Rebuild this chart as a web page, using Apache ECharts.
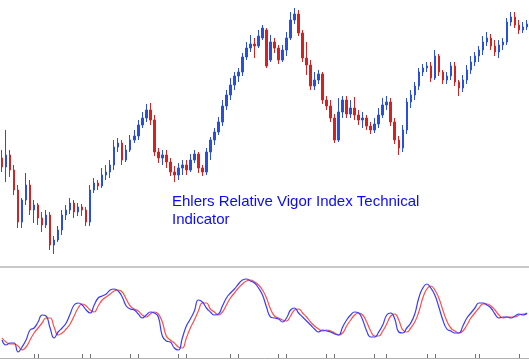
<!DOCTYPE html>
<html><head><meta charset="utf-8">
<script src="https://cdn.jsdelivr.net/npm/echarts@6/dist/echarts.min.js"></script>
<style>html,body{margin:0;padding:0;background:#fff}#c{width:529px;height:361px}</style>
</head><body><div id="c"></div>
<script>
// Price candles (arbitrary price units)
const opens  = [112,103,115,100,80,48,70,85,60,65,52,45,55,25,30,40,55,60,67,58,63,60,48,80,87,84,95,98,105,123,127,110,120,130,134,145,152,160,150,118,112,115,108,98,95,102,105,100,110,116,102,98,118,130,138,148,164,175,185,194,198,213,222,226,224,232,240,210,228,222,210,220,232,250,256,237,212,205,184,190,196,170,164,152,130,158,170,156,162,155,150,152,144,140,146,155,165,168,148,130,122,140,168,175,184,198,202,204,192,214,198,190,194,204,188,182,190,200,208,214,220,228,232,224,218,225,228,248,253,245,240,243];
const closes = [103,115,100,80,48,70,85,60,65,52,45,55,25,30,40,55,60,67,58,63,60,48,80,87,84,95,98,105,123,127,110,120,130,134,145,152,160,150,118,112,115,108,98,95,102,105,100,110,116,102,98,118,130,138,148,164,175,185,194,198,213,222,226,224,234,242,204,228,222,210,220,232,250,256,237,212,205,184,190,196,170,164,152,130,158,170,156,162,155,150,152,144,140,146,155,165,168,148,130,122,140,168,175,184,198,202,204,192,214,198,190,194,204,188,182,190,200,208,214,220,228,232,224,218,225,228,248,253,245,240,243,246];
const lows   = [98,88,93,75,42,42,65,55,47,45,38,42,20,16,28,35,50,56,52,54,54,44,44,77,80,82,90,92,100,118,105,108,118,127,130,142,148,145,114,107,105,102,94,88,90,95,95,98,107,97,94,95,110,125,135,144,160,170,180,188,194,210,218,212,222,230,202,208,217,206,208,214,230,246,234,208,195,180,180,186,166,160,148,127,128,152,152,152,150,145,142,140,136,137,142,152,160,144,126,115,118,136,162,170,180,194,198,188,190,194,186,186,190,184,174,178,186,196,204,208,215,224,220,214,212,220,225,244,242,236,237,240];
const highs  = [120,140,120,105,85,72,97,90,70,67,58,60,58,34,44,60,65,72,70,67,66,63,85,92,90,102,105,110,130,132,130,125,135,140,150,158,166,167,155,122,120,120,112,104,107,110,110,116,120,118,105,122,133,142,153,170,180,192,198,202,217,228,235,232,240,245,242,235,232,225,225,238,258,262,260,240,228,210,198,200,198,174,170,156,172,174,174,170,173,160,158,155,148,152,162,172,174,172,152,134,145,172,180,188,202,206,208,208,220,216,200,198,208,208,190,195,205,214,218,224,234,238,236,230,230,232,252,258,258,250,248,250];
// Oscillator (RVI and its signal line)
const rvi    = [20,15,17,17,8,13,20,30,32,38,45,44,32,22,28,32,37,46,55,57,55,50,47,55,62,64,66,70,71,69,63,54,51,50,46,42,45,48,47,43,24,19,18,12,10,22,34,41,49,60,58,52,48,45,46,54,62,67,71,76,80,81,79,77,72,65,53,43,42,41,38,42,50,52,47,43,39,35,31,28,30,29,28,26,25,33,40,45,48,47,40,29,23,23,28,35,45,47,41,28,27,32,37,46,62,72,76,72,65,53,40,31,29,27,27,34,42,47,52,57,57,55,52,46,42,43,43,42,44,46,45,47];
const signal = [22,18,16,16,14,10,13,20,27,32,37,42,42,33,25,27,31,36,44,52,56,54,50,48,54,60,63,66,69,70,68,61,54,51,49,45,43,46,48,46,38,24,20,17,13,12,22,32,40,49,57,57,51,48,45,48,55,62,67,72,76,79,80,78,75,70,62,51,44,42,40,39,44,50,51,47,43,38,34,31,29,30,29,27,25,27,34,40,45,47,45,38,29,24,24,29,36,44,46,40,30,28,32,38,48,62,71,74,70,62,50,39,32,29,27,29,35,42,47,52,56,56,54,50,45,42,43,43,43,45,46,46];
// Time separator tick positions (candle indices)
const sepTicks = [8,9,20,22,32,34,44,46,57,59,69,71,81,83,93,96,106,108,118,119,129];
const annotation = 'Ehlers Relative Vigor Index Technical\nIndicator';

const cats = closes.map((_, i) => i);
const candles = closes.map((c, i) => [opens[i], c, lows[i], highs[i]]);
const tickSet = new Set(sepTicks);

const chart = echarts.init(document.getElementById('c'), null, {renderer: 'canvas'});
chart.setOption({
  animation: false,
  backgroundColor: '#ffffff',
  grid: [
    {left: 0, right: 0, top: 0, height: 267},
    {left: 0, right: 0, top: 270, height: 88}
  ],
  xAxis: [
    {type: 'category', data: cats, gridIndex: 0, boundaryGap: true,
     axisLine: {show: true, lineStyle: {color: '#c8c8c8', width: 2}},
     axisTick: {show: false}, axisLabel: {show: false}, splitLine: {show: false}},
    {type: 'category', data: cats, gridIndex: 1, boundaryGap: true,
     axisLine: {show: true, lineStyle: {color: '#b0b0b0', width: 1}},
     axisTick: {show: true, inside: true, length: 4, alignWithLabel: true,
                interval: (idx) => tickSet.has(idx),
                lineStyle: {color: '#707070', width: 1}},
     axisLabel: {show: false}, splitLine: {show: false}}
  ],
  yAxis: [
    {type: 'value', gridIndex: 0, min: 3, max: 270, show: false, splitLine: {show: false}},
    {type: 'value', gridIndex: 1, min: 2, max: 90, show: false, splitLine: {show: false}}
  ],
  series: [
    {type: 'candlestick', xAxisIndex: 0, yAxisIndex: 0, data: candles, barWidth: 2,
     itemStyle: {color: '#2a4fdc', color0: '#d42222', borderColor: '#2a4fdc', borderColor0: '#d42222', borderWidth: 1}},
    {type: 'line', xAxisIndex: 1, yAxisIndex: 1, data: signal, smooth: true, symbol: 'none',
     lineStyle: {color: '#ff4d4d', width: 1.2}},
    {type: 'line', xAxisIndex: 1, yAxisIndex: 1, data: rvi, smooth: true, symbol: 'none',
     lineStyle: {color: '#3a3aff', width: 1.2}}
  ],
  graphic: [
    {type: 'text', left: 172, top: 193,
     style: {text: annotation, fill: '#0a0aff', font: '15px "Liberation Sans", Arial, sans-serif', lineHeight: 18}}
  ]
});
</script></body></html>
